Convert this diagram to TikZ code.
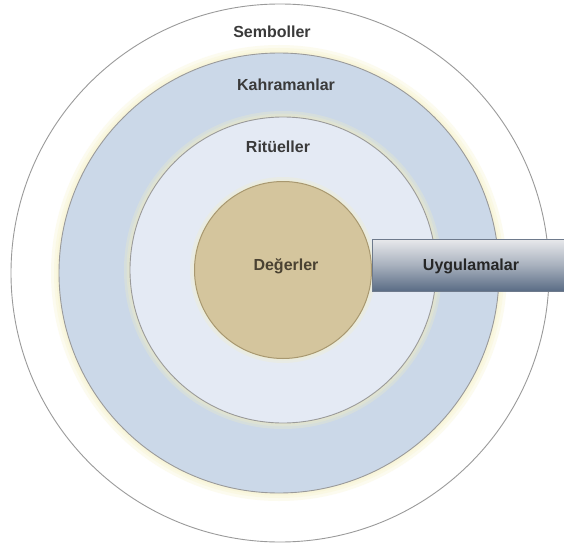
\documentclass[tikz,border=0pt]{standalone}
\usepackage{fontspec}
\setmainfont{Liberation Sans}
\definecolor{ringline}{HTML}{9A9A9A}
\definecolor{bluefill}{HTML}{CBD8E8}
\definecolor{lightfill}{HTML}{E4EAF4}
\definecolor{tanfill}{HTML}{D4C59D}
\definecolor{tanline}{HTML}{A89870}
\definecolor{glow}{HTML}{F6F0C0}
\definecolor{labeltxt}{HTML}{3A3A3A}
\definecolor{tantxt}{HTML}{4A4232}
\definecolor{boxtop}{HTML}{E8E9EC}
\definecolor{boxbot}{HTML}{5A6C85}
\definecolor{boxline}{HTML}{6E7A8C}
\begin{document}
\begin{tikzpicture}[x=1pt,y=-1pt,
  ring/.style={circle,inner sep=0pt,outer sep=0pt,draw=ringline,line width=0.9pt},
  glowring/.style={circle,inner sep=0pt,outer sep=0pt,fill=glow,fill opacity=0.25},
  lbl/.style={font=\fontsize{16}{18}\selectfont\bfseries,text=labeltxt,inner sep=0pt}]
\useasboundingbox[fill=white] (0,0) rectangle (564,548);
% outer circle
\node[ring,fill=white,minimum size=538pt] (sym) at (280,273) {};
% glow and blue ring
\node[glowring,minimum size=456pt] (glowA1) at (279,273) {};
\node[glowring,minimum size=450pt] (glowA2) at (279,273) {};
\node[glowring,minimum size=445pt] (glowA3) at (279,273) {};
\node[ring,fill=bluefill,minimum size=440pt] (kah) at (279,273) {};
% glow and light circle
\node[glowring,minimum size=318pt] (glowB1) at (283,270) {};
\node[glowring,minimum size=313pt] (glowB2) at (283,270) {};
\node[glowring,minimum size=309pt] (glowB3) at (283,270) {};
\node[ring,fill=lightfill,minimum size=306pt] (rit) at (283,270) {};
% tan circle
\node[glowring,minimum size=186pt] (glowC1) at (283,270) {};
\node[glowring,minimum size=181pt] (glowC2) at (283,270) {};
\node[circle,inner sep=0pt,outer sep=0pt,fill=tanfill,draw=tanline,line width=1pt,minimum size=177pt] (deg) at (283,270) {};
% labels
\node[lbl] (tsym) at (272,32) {Semboller};
\node[lbl] (tkah) at (286,85) {Kahramanlar};
\node[lbl] (trit) at (278,147) {Ritüeller};
\node[lbl,text=tantxt] (tdeg) at (286,266) {Değerler};
% box
\node[rectangle,anchor=west,inner sep=0pt,outer sep=0pt,minimum width=194pt,minimum height=52pt,
  top color=boxtop,bottom color=boxbot,middle color=boxtop!55!boxbot,draw=boxline,line width=0.6pt] (uyg) at (372,265) {};
\node[lbl,text=black!85] (tuyg) at (471,266) {Uygulamalar};
\end{tikzpicture}
\end{document}
